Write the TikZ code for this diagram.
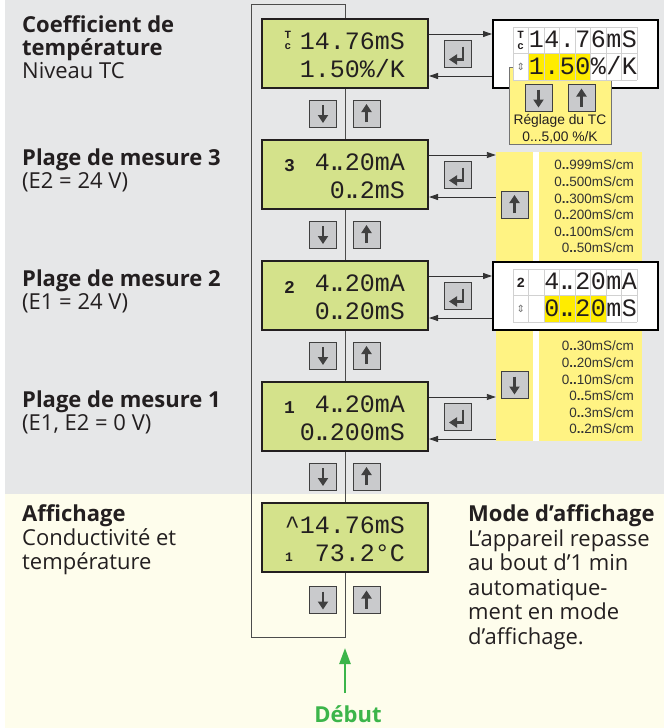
\documentclass[tikz,border=0pt]{standalone}
\usepackage{fontspec}
\setmainfont{Open Sans}
\newfontfamily\lcdfont{Liberation Mono}
\newfontfamily\armfont{Liberation Sans}
\newfontfamily\symfont{DejaVu Sans}
\usetikzlibrary{arrows.meta}

\definecolor{bggray}{HTML}{E6E7E8}
\definecolor{bgbeige}{HTML}{FEFDEC}
\definecolor{lcdgreen}{HTML}{D4E28B}
\definecolor{btngray}{HTML}{C9CACC}
\definecolor{softyellow}{HTML}{FFF383}
\definecolor{hiyellow}{HTML}{FFEC00}
\definecolor{inkgray}{HTML}{231F20}
\definecolor{startgreen}{HTML}{3CB54A}

\newcommand\lcddots{\makebox[0.6em][l]{\kern-0.12em.\kern-0.38em.}}
\newcommand\rangeline[1]{0\textbf{..}#1mS/cm}
\newcommand\tcicon{\shortstack{T\\[2pt]c}}
\newcommand\updn{{\symfont\fontsize{10}{10}\selectfont ⇕}}

\begin{document}
\begin{tikzpicture}[x=1pt, y=-1pt,
    lcd/.style      = {rectangle, draw=inkgray, line width=2pt, fill=lcdgreen,
                       minimum width=166pt, minimum height=69pt},
    lcdrow/.style   = {anchor=base east, inner sep=0pt, text=inkgray,
                       font=\lcdfont\fontsize{25}{25}\selectfont},
    lcdcell/.style  = {anchor=base, inner sep=0pt, text=inkgray,
                       font=\lcdfont\fontsize{25}{25}\selectfont},
    lcdicon/.style  = {inner sep=0pt, text=inkgray,
                       font=\lcdfont\bfseries\fontsize{18}{18}\selectfont},
    panel/.style    = {rectangle, draw=black, line width=2pt, fill=white,
                       minimum width=165pt, minimum height=68pt},
    btn/.style      = {rectangle, draw=black!75, line width=0.8pt, fill=btngray,
                       minimum size=27pt, inner sep=0pt},
    barrow/.style   = {line width=2.6pt, -{Triangle[length=8pt,width=10pt]}},
    btndown/.style  = {btn, path picture={\draw[barrow]
                       ([yshift=-5pt]path picture bounding box.north) --
                       ([yshift=4pt]path picture bounding box.south);}},
    btnup/.style    = {btn, path picture={\draw[barrow]
                       ([yshift=5pt]path picture bounding box.south) --
                       ([yshift=-4pt]path picture bounding box.north);}},
    btnenter/.style = {btn, path picture={\draw[barrow]
                       ([shift={(5pt,7pt)}]path picture bounding box.center) --
                       ++(0pt,-13pt) -- ++(-14pt,0pt);}},
    wire/.style     = {draw=black!70, line width=1pt},
    link/.style     = {draw=black!80, line width=0.9pt,
                       -{Triangle[length=9pt,width=6pt]}},
    gridline/.style = {draw=black!18, line width=0.8pt},
    rnglist/.style  = {align=right, anchor=east, inner sep=0pt, text=black!80,
                       font=\armfont\fontsize{13.5}{16.6}\selectfont},
    lab/.style      = {anchor=base west, align=left, inner sep=0pt, text=inkgray,
                       font=\fontsize{22}{23}\selectfont}
]
\useasboundingbox (0,0) rectangle (664,728);
\fill[bggray]  (5,0)   rectangle (664,494);
\fill[bgbeige] (5,494) rectangle (664,728);

% left labels (placed at the baseline of their last line)
\node[lab] (lab1) at (22,78)  {\textbf{Coefficient de}\\\textbf{température}\\Niveau TC};
\node[lab] (lab2) at (22,188) {\textbf{Plage de mesure 3}\\(E2 = 24 V)};
\node[lab] (lab3) at (22,309) {\textbf{Plage de mesure 2}\\(E1 = 24 V)};
\node[lab] (lab4) at (22,430) {\textbf{Plage de mesure 1}\\(E1, E2 = 0 V)};
\node[lab, font=\fontsize{22}{24}\selectfont] (lab5) at (22,569)
  {\textbf{Affichage}\\Conductivité et\\température};
\node[lab, font=\fontsize{22}{24.5}\selectfont] (mode) at (468,644)
  {\textbf{Mode d’affichage}\\L’appareil repasse\\au bout d’1 min\\automatique-\\ment en mode\\d’affichage.};

% displays and the loop
\foreach \yy [count=\i] in {53.5, 174.5, 295.5, 416.5, 537.5}
  \node[lcd] (d\i) at (345,\yy) {};
\coordinate (lt) at (251,4);
\coordinate (lb) at (251,637);
\draw[wire] (d1.north) |- (lt) -- (lb) -| (d5.south);
\foreach \a/\b in {d1/d2, d2/d3, d3/d4, d4/d5}
  \draw[wire] (\a.south) -- (\b.north);

\node[lcdicon, font=\lcdfont\bfseries\fontsize{11}{11}\selectfont] (i1) at (288,40) {\tcicon};
\node[lcdrow] (t1a) at (405,49)  {14.76mS};
\node[lcdrow] (t1b) at (405,77)  {1.50\%/K};
\node[lcdicon] (i2) at (289.5,166) {3};
\node[lcdrow] (t2a) at (405,170) {4\lcddots20mA};
\node[lcdrow] (t2b) at (405,198) {0\lcddots2mS};
\node[lcdicon] (i3) at (289.5,287) {2};
\node[lcdrow] (t3a) at (405,291) {4\lcddots20mA};
\node[lcdrow] (t3b) at (405,319) {0\lcddots20mS};
\node[lcdicon] (i4) at (289.5,408) {1};
\node[lcdrow] (t4a) at (405,412) {4\lcddots20mA};
\node[lcdrow] (t4b) at (405,440) {0\lcddots200mS};
\node[lcdrow] (t5a) at (405,533) {\textasciicircum14.76mS};
\node[lcdicon, anchor=base, font=\lcdfont\bfseries\fontsize{13}{13}\selectfont] (i5) at (289,561) {1};
\node[lcdrow] (t5b) at (405,561) {73.2°C};

% keys
\foreach \yy [count=\i] in {113.5, 234.5, 355.5, 476.5, 600} {
  \node[btndown] (dn\i) at (323,\yy) {};
  \node[btnup]   (up\i) at (366.5,\yy) {};
}
\foreach \yy [count=\i] in {53.5, 174.5, 295.5, 416.5}
  \node[btnenter] (ok\i) at (458,\yy) {};

% TC setting
\node[panel] (tc) at (575.5,54) {};
\node[rectangle, draw=black!55, line width=0.6pt, fill=softyellow,
      minimum width=102pt, minimum height=77pt] (tcy) at (560,105.5) {};
\fill[white] (513,27) rectangle (637,80);
\fill[hiyellow] (528.5,53.5) rectangle (590.5,80);
\foreach \c in {0,...,8} \draw[gridline] ({513+15.5*\c},27) -- ++(0,53);
\foreach \r in {0,1,2} \draw[gridline] (513,{27+26.5*\r}) -- ++(124,0);
\node[lcdicon, font=\lcdfont\bfseries\fontsize{11}{11}\selectfont] (g1) at (520.75,40) {\tcicon};
\foreach \ch [count=\c] in {{},1,4,.,7,6,m,S}
  \node[lcdcell] (tca\c) at ({505.25+15.5*\c},47.5) {\ch};
\node[text=black!55, inner sep=0pt] (g2) at (520.75,66.5) {\updn};
\foreach \ch [count=\c] in {{},1,.,5,0,\%,/,K}
  \node[lcdcell] (tcb\c) at ({505.25+15.5*\c},74) {\ch};
\node[btndown] (tcdn) at (538.5,98) {};
\node[btnup]   (tcup) at (581.5,98) {};
\node[align=center, inner sep=0pt, text=inkgray,
      font=\armfont\fontsize{13.8}{17}\selectfont] (tcnote) at (560,128.5)
  {Réglage du TC\\0...5,00 \%/K};

% measuring ranges
\node[rectangle, fill=softyellow, minimum width=146pt, minimum height=289pt,
      inner sep=0pt] (rng) at (569,296.5) {};
\fill[white] (533,152) rectangle (539,441);
\node[btnup]   (rup) at (514.5,204.5) {};
\node[btndown] (rdn) at (514.5,385) {};
\node[rnglist] (list3) at (634,206.5)
  {\rangeline{999}\\\rangeline{500}\\\rangeline{300}\\\rangeline{200}\\\rangeline{100}\\\rangeline{50}};
\node[rnglist] (list1) at (634,387.5)
  {\rangeline{30}\\\rangeline{20}\\\rangeline{10}\\\rangeline{5}\\\rangeline{3}\\\rangeline{2}};

\node[panel] (r2) at (575.5,296) {};
\fill[white] (513,269) rectangle (637,322);
\fill[hiyellow] (544,295.5) rectangle (606,322);
\foreach \c in {0,...,8} \draw[gridline] ({513+15.5*\c},269) -- ++(0,53);
\foreach \r in {0,1,2} \draw[gridline] (513,{269+26.5*\r}) -- ++(124,0);
\node[lcdicon, font=\lcdfont\bfseries\fontsize{14}{14}\selectfont] (g3) at (520.75,283) {2};
\foreach \ch [count=\c] in {{},{},4,\lcddots,2,0,m,A}
  \node[lcdcell] (r2a\c) at ({505.25+15.5*\c},289.5) {\ch};
\node[text=black!55, inner sep=0pt] (g4) at (520.75,308.5) {\updn};
\foreach \ch [count=\c] in {{},{},0,\lcddots,2,0,m,S}
  \node[lcdcell] (r2b\c) at ({505.25+15.5*\c},316) {\ch};

% connectors to the right
\foreach \a/\b in {d1/tc, d2/rng, d3/r2, d4/rng} {
  \draw[link] ([yshift=-16pt]\a.north east) -- ([yshift=-16pt]\a.north east -| \b.west);
  \draw[link] ([yshift=13pt]\a.south east -| \b.west) -- ([yshift=13pt]\a.south east);
}

% start
\node[anchor=base, inner sep=0pt, text=startgreen,
      font=\bfseries\fontsize{22}{22}\selectfont] (debut) at (348,722) {Début};
\coordinate (gtail) at (345,693);
\coordinate (gtip)  at (345,648);
\draw[startgreen, line width=2.4pt, -{Triangle[length=16pt,width=11pt]}] (gtail) -- (gtip);
\end{tikzpicture}
\end{document}
